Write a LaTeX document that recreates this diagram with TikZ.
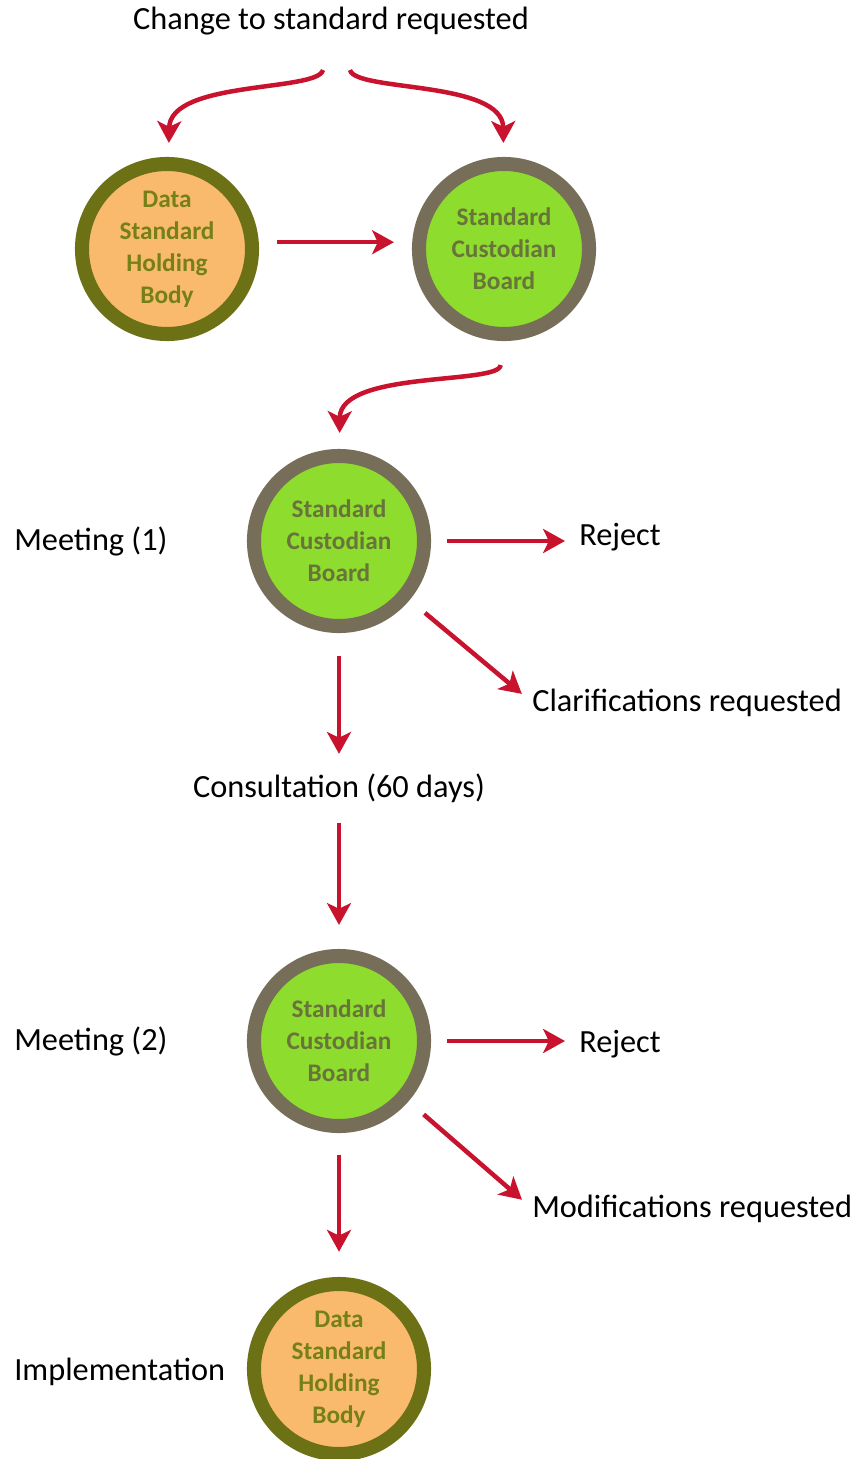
\documentclass[tikz,border=0pt]{standalone}
\usepackage{fontspec}
\setmainfont{Carlito}
\usetikzlibrary{arrows.meta}

\definecolor{arrowred}{RGB}{200,18,46}
\definecolor{holderfill}{RGB}{250,186,110}
\definecolor{holderring}{RGB}{108,113,22}
\definecolor{holdertext}{RGB}{118,128,24}
\definecolor{boardfill}{RGB}{142,220,46}
\definecolor{boardring}{RGB}{118,110,88}
\definecolor{boardtext}{RGB}{104,116,58}

\begin{document}
\begin{tikzpicture}[
                x=0.025cm, y=-0.025cm,
                every node/.append style={font=\fontsize{23}{27}\selectfont},
                holder/.style={circle,draw=holderring,fill=holderfill,line width=10pt,
                    minimum size=4.25cm,inner sep=0pt,text=holdertext,align=center,
                    font=\fontsize{18}{22.7}\selectfont\bfseries},
                board/.style={holder,draw=boardring,fill=boardfill,text=boardtext},
                arr/.style={draw=arrowred,line width=3.2pt,
                    -{Stealth[length=15.5pt,width=17pt,inset=4pt]}},
                lbl/.style={inner sep=0pt,anchor=base west}
            ]
                \path[use as bounding box,fill=white] (0,0) rectangle (860,1459);

                \node (req)  [anchor=base,inner sep=0pt] at (331,30) {Change to standard requested};
                \coordinate (splitl) at (323,70);
                \coordinate (splitr) at (350,70);

                \node (hold1) [holder] at (167,249) {Data\\Standard\\Holding\\Body};
                \node (cust1) [board]  at (504,249) {Standard\\Custodian\\Board};

                % first meeting
                \node (cust2) [board] at (339,541) {Standard\\Custodian\\Board};
                \node (meet1) [lbl] at (14,550)  {Meeting (1)};
                \node (rej1)  [lbl] at (579,545) {Reject};
                \node (clar)  [lbl] at (532,711) {Clarifications requested};
                \node (cons)  [anchor=base,inner sep=0pt] at (339,797) {Consultation (60 days)};

                % second meeting
                \node (cust3) [board] at (339,1041) {Standard\\Custodian\\Board};
                \node (meet2) [lbl] at (14,1050)  {Meeting (2)};
                \node (rej2)  [lbl] at (579,1052) {Reject};
                \node (mod)   [lbl] at (532,1217) {Modifications requested};

                \node (hold2) [holder] at (339,1369) {Data\\Standard\\Holding\\Body};
                \node (impl)  [lbl] at (14,1380) {Implementation};

                \draw[arr,shorten >=0.35cm] (splitl) .. controls (318,92) and (170,80) .. (hold1);
                \draw[arr,shorten >=0.35cm] (splitr) .. controls (355,92) and (503,80) .. (cust1);
                \draw[arr,shorten <=0.45cm,shorten >=0.45cm] ([yshift=0.17cm]hold1.east) -- ([yshift=0.17cm]cust1.west);
                \draw[arr,shorten <=0.6cm,shorten >=0.4cm] (cust1) .. controls (500,385) and (340,370) .. (cust2);

                \draw[arr,shorten <=0.4cm,shorten >=0.35cm] (cust2) -- (cust2 -| rej1.west);
                \draw[arr,shorten <=0.5cm,shorten >=0.33cm] (cust2) -- (clar.west);
                \draw[arr,shorten <=0.58cm,shorten >=0.48cm] (cust2) -- (cons);
                \draw[arr,shorten <=0.5cm,shorten >=0.6cm] (cons) -- (cust3);

                \draw[arr,shorten <=0.4cm,shorten >=0.35cm] (cust3) -- (cust3 -| rej2.west);
                \draw[arr,shorten <=0.5cm,shorten >=0.33cm] (cust3) -- (mod.west);
                \draw[arr,shorten <=0.55cm,shorten >=0.63cm] (cust3) -- (hold2);
            \end{tikzpicture}
\end{document}
